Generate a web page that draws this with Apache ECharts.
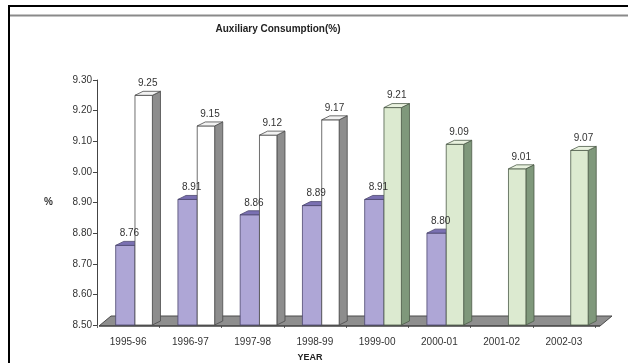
<!DOCTYPE html>
<html>
<head>
<meta charset="utf-8">
<script src="https://cdn.jsdelivr.net/npm/echarts@6/dist/echarts.min.js"></script>
<style>
  html, body { margin: 0; padding: 0; background: #fff; }
  #chart { width: 628px; height: 363px; }
</style>
</head>
<body>
<div id="chart"></div>
<script>
// Auxiliary consumption (%) by financial year
const years = ['1995-96', '1996-97', '1997-98', '1998-99', '1999-00', '2000-01', '2001-02', '2002-03'];
const purpleVals = [8.76, 8.91, 8.86, 8.89, 8.91, 8.80, null, null];
const whiteVals  = [9.25, 9.15, 9.12, 9.17, null, null, null, null];
const greenVals  = [null, null, null, null, 9.21, 9.09, 9.01, 9.07];
const yMin = 8.5, yMax = 9.3, yStep = 0.1;

const FONT = '"Liberation Sans", Arial, sans-serif';

// Turn a value list into [categoryIndex, value] pairs, skipping gaps
function toPairs(vals) {
  const out = [];
  vals.forEach((v, i) => { if (v != null) out.push([i, v]); });
  return out;
}

// 3D-looking column: front face, side face and top face, plus its value label
function makeBarRenderer(slot, colors) {
  const layer = slot + 1;
  return function (params, api) {
    const cat = api.value(0);
    const val = api.value(1);
    const base = api.coord([cat, yMin]);
    const top = api.coord([cat, val]);
    const band = api.size([1, 0])[0];
    const start = base[0] - band / 2;
    const x0 = start + band * (slot === 0 ? 0.30 : 0.61);
    const x1 = start + band * (slot === 0 ? 0.61 : 0.89);
    const dx = band * 0.13, dy = -4;
    const yT = top[1], yB = base[1];
    const line = { stroke: colors.edge, lineWidth: 0.8 };
    return {
      type: 'group',
      children: [
        { type: 'polygon', z2: layer, shape: { points: [[x1, yT], [x1 + dx, yT + dy], [x1 + dx, yB + dy], [x1, yB]] },
          style: Object.assign({ fill: colors.side }, line) },
        { type: 'rect', z2: layer, shape: { x: x0, y: yT, width: x1 - x0, height: yB - yT },
          style: Object.assign({ fill: colors.front }, line) },
        { type: 'polygon', z2: layer, shape: { points: [[x0, yT], [x0 + dx, yT + dy], [x1 + dx, yT + dy], [x1, yT]] },
          style: Object.assign({ fill: colors.top }, line) },
        { type: 'text', z2: 20, x: (x0 + x1) / 2 + dx / 2, y: yT + dy - 3,
          style: { text: val.toFixed(2), fill: '#333', font: '10px ' + FONT, textAlign: 'center', textVerticalAlign: 'bottom' } }
      ]
    };
  };
}

// Grey floor slab under the columns
function renderFloor(params, api) {
  const cs = params.coordSys;
  const yB = cs.y + cs.height;
  const xL = cs.x + 2, xR = cs.x + cs.width + 5;
  const dx = 12, dy = -9;
  return {
    type: 'group',
    children: [
      { type: 'polygon', shape: { points: [[xL, yB + 1], [xR, yB + 1], [xR + dx, yB + dy], [xL + dx, yB + dy]] },
        style: { fill: '#8e8e8e', stroke: '#4a4a4a', lineWidth: 1 } },
      { type: 'line', shape: { x1: xL, y1: yB + 1, x2: xR, y2: yB + 1 },
        style: { stroke: '#3a3a3a', lineWidth: 1.2 } }
    ]
  };
}

const chart = echarts.init(document.getElementById('chart'), null, { renderer: 'canvas' });

chart.setOption({
  animation: false,
  backgroundColor: '#ffffff',
  textStyle: { fontFamily: FONT },
  grid: { left: 97, right: 33, top: 80, bottom: 38 },
  xAxis: {
    type: 'category',
    data: years,
    axisLine: { show: false },
    axisTick: { show: true, length: 3, lineStyle: { color: '#666' } },
    axisLabel: { fontSize: 10, color: '#333', margin: 12, fontFamily: FONT },
    splitLine: { show: false }
  },
  yAxis: {
    type: 'value',
    min: yMin,
    max: yMax,
    interval: yStep,
    name: '%',
    nameLocation: 'middle',
    nameRotate: 0,
    nameGap: 44,
    nameTextStyle: { fontSize: 10, color: '#333', fontWeight: 'bold', fontFamily: FONT },
    axisLine: { show: true, lineStyle: { color: '#444', width: 1 } },
    axisTick: { show: true, length: 4, lineStyle: { color: '#444' } },
    axisLabel: { fontSize: 10, color: '#333', margin: 5, fontFamily: FONT,
                 formatter: v => v.toFixed(2) },
    splitLine: { show: false }
  },
  graphic: [
    { type: 'rect', shape: { x: 8, y: 5, width: 620, height: 2 }, style: { fill: '#000' }, z: 100 },
    { type: 'rect', shape: { x: 8, y: 5, width: 2, height: 358 }, style: { fill: '#000' }, z: 100 },
    { type: 'rect', shape: { x: 10, y: 14, width: 618, height: 3 }, style: { fill: '#c4c4c4' }, z: 100 },
    { type: 'rect', shape: { x: 10, y: 15, width: 618, height: 1 }, style: { fill: '#8a8a8a' }, z: 100 },
    { type: 'text', x: 278, y: 29,
      style: { text: 'Auxiliary Consumption(%)', fill: '#222', font: 'bold 10px ' + FONT,
               textAlign: 'center', textVerticalAlign: 'middle' }, z: 100 },
    { type: 'text', x: 310, y: 358,
      style: { text: 'YEAR', fill: '#222', font: 'bold 9px ' + FONT,
               textAlign: 'center', textVerticalAlign: 'middle' }, z: 100 }
  ],
  series: [
    { type: 'custom', name: 'floor', data: [[0, yMin]], renderItem: renderFloor, z: 1, silent: true },
    { type: 'custom', name: 'purple', data: toPairs(purpleVals), z: 2,
      renderItem: makeBarRenderer(0, { front: '#aea6d6', side: '#6f65a3', top: '#7a70b2', edge: '#4d4870' }) },
    { type: 'custom', name: 'white', data: toPairs(whiteVals), z: 2,
      renderItem: makeBarRenderer(1, { front: '#ffffff', side: '#8d8d8d', top: '#f2f2f2', edge: '#4a4a4a' }) },
    { type: 'custom', name: 'green', data: toPairs(greenVals), z: 2,
      renderItem: makeBarRenderer(1, { front: '#dcead0', side: '#7f987b', top: '#e9f2df', edge: '#4c5c49' }) }
  ]
});
</script>
</body>
</html>
